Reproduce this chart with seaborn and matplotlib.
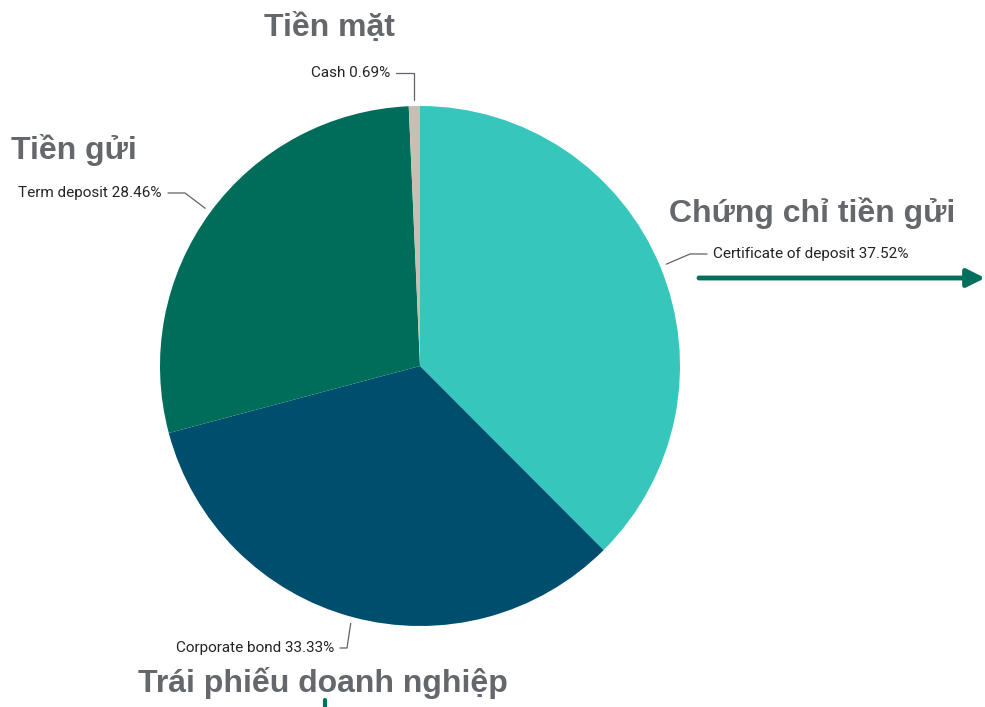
import numpy as np
import matplotlib
matplotlib.use("Agg")
import matplotlib.pyplot as plt
import seaborn as sns

# ---- data ----
categories = ["Certificate of deposit", "Corporate bond", "Term deposit", "Cash"]
values = [37.52, 33.33, 28.46, 0.69]
titles_vi = ["Chứng chỉ tiền gửi", "Trái phiếu doanh nghiệp", "Tiền gửi", "Tiền mặt"]
colors = ["#36C6BB", "#004E6E", "#006D5A", "#C8BEB2"]

sns.set_theme(style="white")
plt.rcParams["font.family"] = ["Roboto", "DejaVu Sans"]

W, H = 985, 707
fig = plt.figure(figsize=(W / 100, H / 100), dpi=100)
ax = fig.add_axes([0, 0, 1, 1])

cx, cy, R = 420, H - 366, 260
wedges, _ = ax.pie(values, colors=colors, startangle=90, counterclock=False,
                   center=(cx, cy), radius=R, frame=True,
                   wedgeprops=dict(linewidth=0))
ax.set_xlim(0, W)
ax.set_ylim(0, H)
ax.set_aspect("equal")
ax.axis("off")

# label layout (pixel coords of text anchor, elbow point, alignment)
layout = {
    "Certificate of deposit": dict(text=(713, 254), elbow=(690, 254), ha="left"),
    "Corporate bond": dict(text=(334, 648), elbow=(347, 648), ha="right"),
    "Term deposit": dict(text=(162, 193), elbow=(185, 193), ha="right"),
    "Cash": dict(text=(390, 73), elbow=(412, 73), ha="right"),
}
line_c = "#5f6368"
for w, cat, v in zip(wedges, categories, values):
    mid = np.deg2rad((w.theta1 + w.theta2) / 2)
    r_a = R * 1.025
    ax_, ay_ = cx + r_a * np.cos(mid), cy + r_a * np.sin(mid)
    L = layout[cat]
    ex, ey = L["elbow"][0], H - L["elbow"][1]
    tx, ty = L["text"][0], H - L["text"][1]
    if cat == "Cash":
        ex = ax_
    gap = 6 if L["ha"] == "left" else -6
    ax.plot([ax_, ex, tx - gap], [ay_, ey, ey], color=line_c, lw=0.9)
    ax.text(tx, ty, f"{cat} {v:.2f}%", ha=L["ha"], va="center",
            fontsize=11, color="#252423")

# Vietnamese titles
title_pos = {
    "Chứng chỉ tiền gửi": (812, 213),
    "Trái phiếu doanh nghiệp": (323, 683),
    "Tiền gửi": (74, 150),
    "Tiền mặt": (329, 28),
}
for t in titles_vi:
    x, y = title_pos[t]
    ax.text(x, H - y, t, ha="center", va="center", fontsize=23,
            fontweight="bold", color="#64676B",
            family=["Liberation Sans", "DejaVu Sans"])

# arrow
ax.annotate("", xy=(W, H - 278), xytext=(699, H - 278),
            arrowprops=dict(arrowstyle="-|>,head_length=0.9,head_width=0.45",
                            color="#00705E", lw=3.5, shrinkA=0, shrinkB=0))
ax.plot([325, 325], [0, H - 700], color="#00705E", lw=3)

fig.savefig("out.png", dpi=100)
